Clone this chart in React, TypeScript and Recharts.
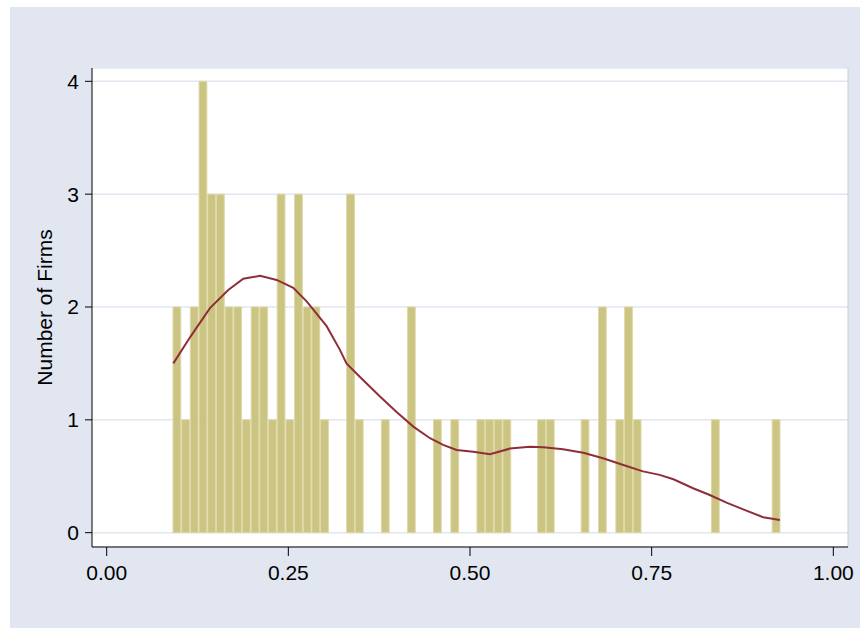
import React from 'react'
import {
  ComposedChart,
  Bar,
  Line,
  XAxis,
  YAxis,
  CartesianGrid,
  ReferenceLine,
} from 'recharts'

// histogram bins (bin centres, share of market) and firm counts
const binCenters = [
  0.0972, 0.1092, 0.1211, 0.1331, 0.1450, 0.1570, 0.1689, 0.1809, 0.1928, 0.2048,
  0.2167, 0.2287, 0.2406, 0.2526, 0.2645, 0.2765, 0.2884, 0.3004, 0.3362, 0.3482,
  0.3840, 0.4199, 0.4557, 0.4796, 0.5155, 0.5274, 0.5394, 0.5513, 0.5991, 0.6111,
  0.6589, 0.6828, 0.7067, 0.7187, 0.7306, 0.8382, 0.9218,
]
const binCounts = [
  2, 1, 2, 4, 3, 3, 2, 2, 1, 2,
  2, 1, 3, 1, 3, 2, 2, 1, 3, 1,
  1, 2, 1, 1, 1, 1, 1, 1, 1, 1,
  1, 2, 1, 2, 1, 1, 1,
]
const BIN_WIDTH = 0.01195

// kernel density, scaled to frequency
const densityX = [
  0.0917, 0.1156, 0.1421, 0.1673, 0.188, 0.211, 0.234, 0.2568, 0.2752, 0.3027,
  0.321, 0.330, 0.3486, 0.3761, 0.399, 0.422, 0.445, 0.463, 0.4816, 0.5045,
  0.5275, 0.555, 0.5825, 0.601, 0.628, 0.656, 0.683, 0.711, 0.738, 0.761,
  0.78, 0.807, 0.83, 0.853, 0.876, 0.9035, 0.9265,
]
const densityY = [
  1.50, 1.74, 1.99, 2.15, 2.25, 2.276, 2.24, 2.17, 2.05, 1.83,
  1.62, 1.50, 1.38, 1.206, 1.07, 0.94, 0.837, 0.778, 0.733, 0.718,
  0.695, 0.745, 0.762, 0.757, 0.739, 0.709, 0.66, 0.60, 0.543, 0.512,
  0.473, 0.394, 0.334, 0.266, 0.207, 0.137, 0.113,
]

const xTicks = [0, 0.25, 0.5, 0.75, 1]
const yTicks = [0, 1, 2, 3, 4]
const X_DOMAIN: [number, number] = [-0.0202, 1.0202]
const Y_DOMAIN: [number, number] = [-0.127, 4.118]

const W = 860
const H = 628
const MARGIN = { top: 68, right: 12, left: 0, bottom: 41 }
const Y_AXIS_W = 92
const FONT = '"Liberation Sans", Arial, Helvetica, sans-serif'

export default function App() {
  const histData = binCenters.map((x, i) => ({ x, count: binCounts[i] }))
  const densityData = densityX.map((x, i) => ({ x, density: densityY[i] }))

  const plotW = W - MARGIN.left - MARGIN.right - Y_AXIS_W
  const barPx = (BIN_WIDTH * plotW) / (X_DOMAIN[1] - X_DOMAIN[0])

  return (
    <div style={{ position: 'absolute', left: 0, top: 0, width: W, height: H, background: '#fff', fontFamily: FONT }}>
      <div style={{ position: 'absolute', left: 10, top: 7, right: 0, bottom: 0, background: '#e1e6f0' }} />
      <div style={{ position: 'absolute', left: 0, top: 0 }}>
        <ComposedChart width={W} height={H} data={histData} margin={MARGIN} barCategoryGap={0} barGap={0}>
          <CartesianGrid vertical={false} stroke="#e1e6f0" strokeWidth={1.5} fill="#ffffff" fillOpacity={1} />
          <XAxis
            dataKey="x"
            type="number"
            domain={X_DOMAIN}
            ticks={xTicks}
            allowDataOverflow
            tickFormatter={(v) => Number(v).toFixed(2)}
            tick={{ fontSize: 21, fill: '#000', fontFamily: FONT }}
            tickSize={9}
            tickMargin={9}
            height={40}
            stroke="#000"
          />
          {/* same scale, kept apart so the line points do not shrink the bins */}
          <XAxis xAxisId="kd" dataKey="x" type="number" domain={X_DOMAIN} allowDataOverflow hide />
          <YAxis
            type="number"
            domain={Y_DOMAIN}
            ticks={yTicks}
            allowDataOverflow
            width={Y_AXIS_W}
            tick={{ fontSize: 21, fill: '#000', fontFamily: FONT }}
            tickSize={7}
            tickMargin={6}
            stroke="#000"
            label={{
              value: 'Number of Firms',
              angle: -90,
              position: 'center',
              dx: -1,
              style: { fontSize: 21, fill: '#000', fontFamily: FONT },
            }}
          />
          {/* faint plot-region border on the right */}
          <ReferenceLine x={X_DOMAIN[1]} stroke="#c8ccd4" strokeWidth={1} />
          <Bar
            dataKey="count"
            fill="#cbc482"
            stroke="#ddd9a6"
            strokeWidth={1}
            barSize={barPx}
            isAnimationActive={false}
          />
          <Line
            xAxisId="kd"
            data={densityData}
            dataKey="density"
            type="linear"
            stroke="#8f2e39"
            strokeWidth={2}
            dot={false}
            activeDot={false}
            isAnimationActive={false}
          />
        </ComposedChart>
      </div>
    </div>
  )
}
